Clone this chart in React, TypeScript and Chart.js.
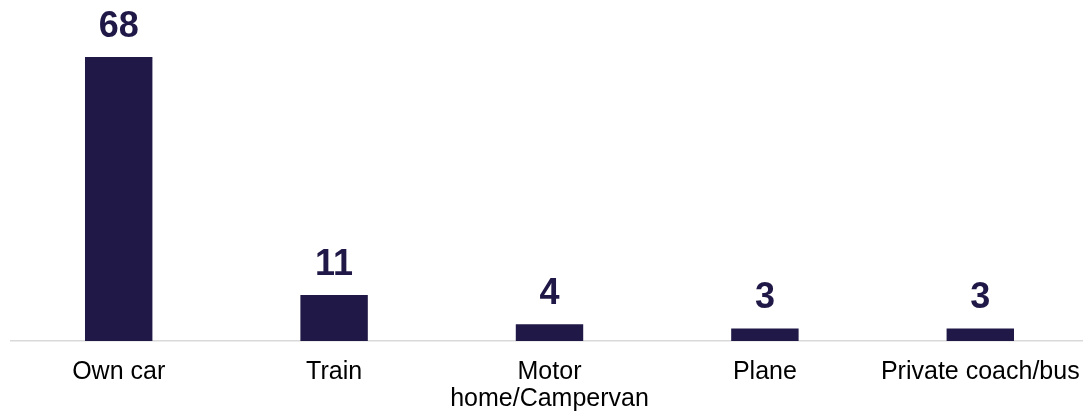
import React, { useEffect, useRef } from "react";
import { Chart, registerables } from "chart.js";

Chart.register(...registerables);

const categories: (string | string[])[] = [
  "Own car",
  "Train",
  ["Motor", "home/Campervan"],
  "Plane",
  "Private coach/bus",
];
const values: number[] = [68, 11, 4, 3, 3];

const BAR_COLOR = "#201846";
const FONT = "'Liberation Sans', Arial, sans-serif";

const valueLabels = {
  id: "valueLabels",
  afterDatasetsDraw(chart: any) {
    const ctx = chart.ctx;
    const meta = chart.getDatasetMeta(0);
    ctx.save();
    ctx.fillStyle = BAR_COLOR;
    ctx.font = `bold 36px ${FONT}`;
    ctx.textAlign = "center";
    ctx.textBaseline = "alphabetic";
    meta.data.forEach((bar: any, i: number) => {
      ctx.fillText(String(values[i]), bar.x, bar.y - 20);
    });
    ctx.restore();
  },
};

export default function App() {
  const ref = useRef<HTMLCanvasElement>(null);
  useEffect(() => {
    if (!ref.current) return;
    const chart = new Chart(ref.current, {
      type: "bar",
      data: {
        labels: categories,
        datasets: [
          {
            data: values,
            backgroundColor: BAR_COLOR,
            barPercentage: 0.313,
            categoryPercentage: 1,
          },
        ],
      },
      options: {
        responsive: false,
        animation: false,
        layout: { padding: { left: 11, right: 0, top: 7, bottom: 0 } },
        plugins: {
          legend: { display: false },
          tooltip: { enabled: false },
        },
        scales: {
          y: { display: false, min: 0, max: 80 },
          x: {
            grid: { display: false, drawTicks: false },
            border: { display: true, color: "#d9d9d9", width: 1.5 },
            ticks: {
              color: "#000000",
              font: { family: FONT, size: 25, lineHeight: 1.08 },
              padding: 18,
              maxRotation: 0,
              autoSkip: false,
            },
            afterFit: (scale: any) => {
              scale.height = 72;
              scale.paddingLeft = 0;
              scale.paddingRight = 0;
            },
          },
        },
      },
      plugins: [valueLabels],
    });
    return () => chart.destroy();
  }, []);
  return (
    <div
      style={{
        position: "fixed",
        left: 0,
        top: 0,
        width: 1083,
        height: 413,
        overflow: "hidden",
        background: "#ffffff",
      }}
    >
      <canvas ref={ref} width={1088} height={413} style={{ display: "block" }} />
    </div>
  );
}
